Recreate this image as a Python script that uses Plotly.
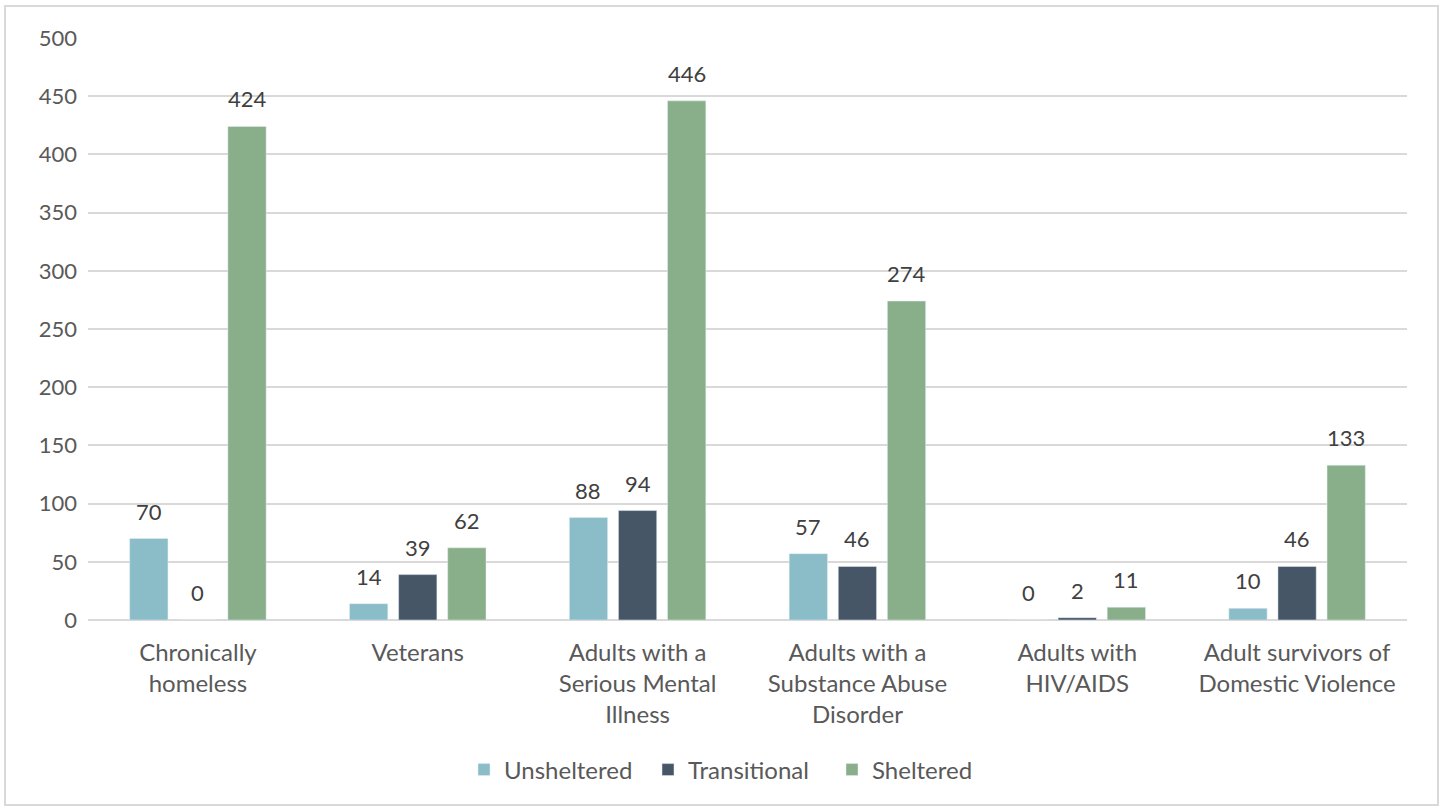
import plotly.graph_objects as go

categories = ["Chronically<br>homeless", "Veterans", "Adults with a<br>Serious Mental<br>Illness",
              "Adults with a<br>Substance Abuse<br>Disorder", "Adults with<br>HIV/AIDS",
              "Adult survivors of<br>Domestic Violence"]
unsheltered = [70, 14, 88, 57, 0, 10]
transitional = [0, 39, 94, 46, 2, 46]
sheltered = [424, 62, 446, 274, 11, 133]
y_ticks = [0, 50, 100, 150, 200, 250, 300, 350, 400, 450, 500]

FONT = "Lato"
TXT = "#595959"
series = [("Unsheltered", unsheltered, "#8BBDC9"),
          ("Transitional", transitional, "#465667"),
          ("Sheltered", sheltered, "#88AF89")]

W, H = 1443, 811
l, r, t, b = 88, 36, 38, 191
pw, ph = W - l - r, H - t - b
cat_w = pw / len(categories)
bargap, bargroupgap = 0.33, 0.22
slot = cat_w * (1 - bargap) / len(series)

fig = go.Figure()
annotations = []
for i, (name, vals, col) in enumerate(series):
    fig.add_trace(go.Bar(x=categories, y=vals, name=name, marker_color=col))
    offset = (i - 1) * slot
    for c, v in zip(categories, vals):
        annotations.append(dict(x=c, y=v, xref="x", yref="y", text=str(v), showarrow=False,
                                xshift=offset, yanchor="bottom", yshift=12,
                                font=dict(family=FONT, size=22, color="#404040")))

fig.update_layout(
    width=W, height=H,
    margin=dict(l=l, r=r, t=t, b=b),
    paper_bgcolor="white", plot_bgcolor="white",
    barmode="group", bargap=bargap, bargroupgap=bargroupgap,
    font=dict(family=FONT, size=22, color=TXT),
    showlegend=True,
    legend=dict(orientation="h", x=(464 - l) / pw, xanchor="left", y=(620 - 770) / ph,
                yanchor="middle", font=dict(family=FONT, size=24, color=TXT),
                entrywidth=139, entrywidthmode="pixels",
                traceorder="normal"),
    xaxis=dict(showgrid=False, showline=False, ticks="", ticklabelstandoff=16,
               tickfont=dict(family=FONT, size=24, color=TXT)),
    yaxis=dict(range=[0, 500], tickvals=y_ticks, showgrid=True, gridcolor="#D9D9D9", gridwidth=1.5,
               zeroline=True, zerolinecolor="#D9D9D9", zerolinewidth=1.5,
               ticks="", ticklabelstandoff=10,
               tickfont=dict(family=FONT, size=22, color=TXT)),
    annotations=annotations,
    shapes=[dict(type="rect", xref="paper", yref="paper",
                 x0=(5 - l) / pw, x1=(1438 - l) / pw,
                 y0=(H - b - 805) / ph, y1=(H - b - 6) / ph,
                 line=dict(color="#D9D9D9", width=2), fillcolor="rgba(0,0,0,0)", layer="below")],
)
fig.write_html("out.html")
